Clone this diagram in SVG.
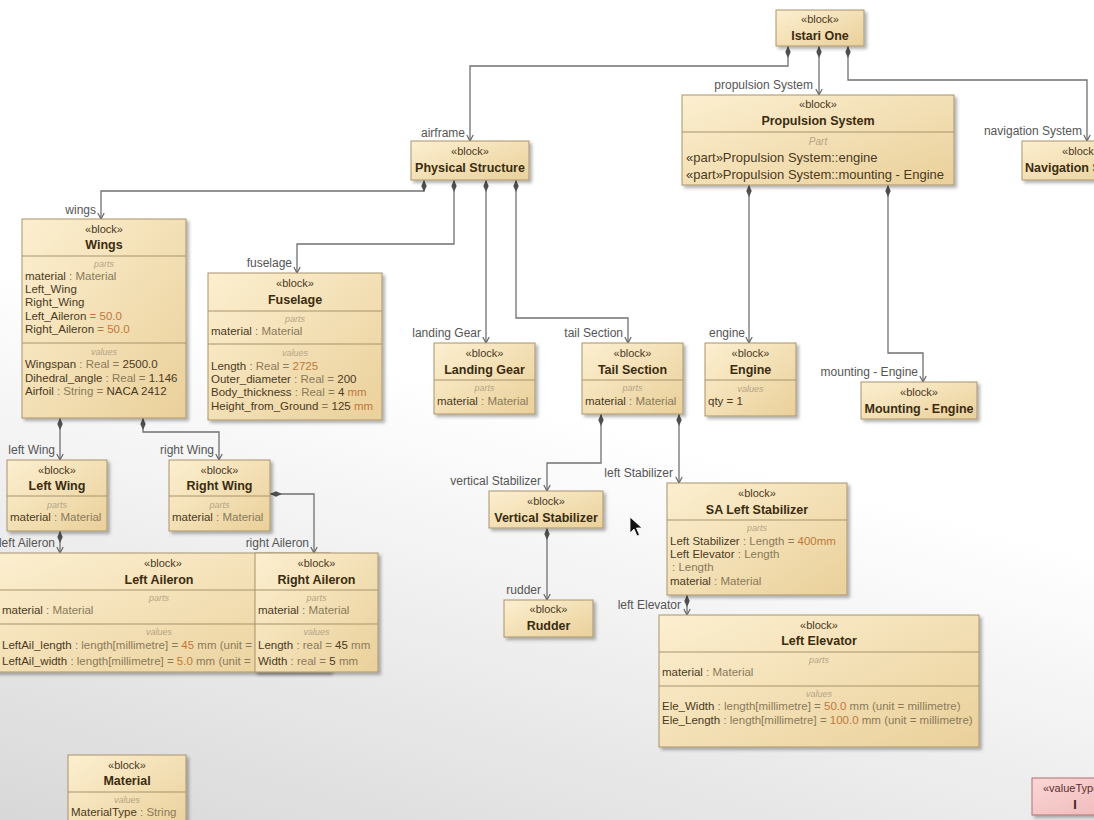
<svg xmlns="http://www.w3.org/2000/svg" width="1094" height="820" viewBox="0 0 1094 820">
<defs>
<linearGradient id="bg" x1="0.35" y1="0" x2="0" y2="1">
<stop offset="0.4" stop-color="#ffffff"/>
<stop offset="1" stop-color="#d8d8d8"/>
</linearGradient>
<linearGradient id="g" x1="0" y1="0" x2="1" y2="1">
<stop offset="0" stop-color="#fcefd0"/>
<stop offset="1" stop-color="#ead09a"/>
</linearGradient>
<linearGradient id="pk" x1="0" y1="0" x2="1" y2="1">
<stop offset="0" stop-color="#fbd6d6"/>
<stop offset="1" stop-color="#f0b8b8"/>
</linearGradient>
<clipPath id="laclip"><rect x="-10" y="540" width="265" height="140"/></clipPath>
<filter id="sh" x="-10%" y="-10%" width="130%" height="130%">
<feDropShadow dx="2.5" dy="2.5" stdDeviation="1.5" flood-color="#000" flood-opacity="0.3"/>
</filter>
<marker id="dia" markerWidth="14" markerHeight="8" refX="0" refY="4" orient="auto" markerUnits="userSpaceOnUse" viewBox="0 0 14 8">
<path d="M0,4 L6,1.3 L12,4 L6,6.7 Z" fill="#505050"/>
</marker>
<marker id="arr" markerWidth="10" markerHeight="10" refX="9" refY="5" orient="auto" markerUnits="userSpaceOnUse" viewBox="0 0 10 10">
<path d="M3,1.8 L9,5 L3,8.2" fill="none" stroke="#666" stroke-width="1.2"/>
</marker>
<style>
text{font-family:"Liberation Sans",Arial,sans-serif}
.box{fill:url(#g);stroke:#a8946c;stroke-width:1;filter:url(#sh)}
.sep{stroke:#a8946c;stroke-width:1}
.st{font-size:11px;fill:#4a3a1e;text-anchor:middle}
.ti{font-size:12.5px;font-weight:bold;fill:#3b2c10;text-anchor:middle}
.cp{font-size:9px;font-style:italic;fill:#b4a486;text-anchor:middle}
.pr{font-size:11.5px;fill:#4a3a1e}
.pp{font-size:13px;fill:#4a3a1e}
.ty{fill:#8a7a5a}
.num{fill:#c0783a}
.con{fill:none;stroke:#707070;stroke-width:1.3;marker-start:url(#dia);marker-end:url(#arr)}
.lbl{font-size:12px;fill:#555;text-anchor:end}
</style>
</defs>
<rect x="0" y="0" width="1094" height="820" fill="url(#bg)"/>

<g id="connectors">
<path class="con" d="M788,46 V66 H470 V141"/>
<path class="con" d="M819,46 V95"/>
<path class="con" d="M848,46 V80 H1087 V141"/>
<path class="con" d="M749,185 V343"/>
<path class="con" d="M888,185 V353 H923 V382"/>
<path class="con" d="M424,180 V191 H101 V219"/>
<path class="con" d="M454,180 V244 H297 V273"/>
<path class="con" d="M486,180 V343"/>
<path class="con" d="M516,180 V318 H628 V343"/>
<path class="con" d="M60,418 V460"/>
<path class="con" d="M143,418 V432 H219 V460"/>
<path class="con" d="M60,531 V553"/>
<path class="con" d="M270,494 H314 V553"/>
<path class="con" d="M601,414 V463 H547 V491"/>
<path class="con" d="M679,414 V483"/>
<path class="con" d="M547,528 V600"/>
<path class="con" d="M687,595 V615"/>
<text class="lbl" x="465" y="137">airframe</text>
<text class="lbl" x="813" y="89">propulsion System</text>
<text class="lbl" x="1082" y="135">navigation System</text>
<text class="lbl" x="745" y="337">engine</text>
<text class="lbl" x="918" y="376">mounting - Engine</text>
<text class="lbl" x="96" y="214">wings</text>
<text class="lbl" x="292" y="267">fuselage</text>
<text class="lbl" x="481" y="337">landing Gear</text>
<text class="lbl" x="623" y="337">tail Section</text>
<text class="lbl" x="55" y="454">left Wing</text>
<text class="lbl" x="214" y="454">right Wing</text>
<text class="lbl" x="55" y="547">left Aileron</text>
<text class="lbl" x="309" y="547">right Aileron</text>
<text class="lbl" x="541" y="485">vertical Stabilizer</text>
<text class="lbl" x="673" y="477">left Stabilizer</text>
<text class="lbl" x="541" y="594">rudder</text>
<text class="lbl" x="681" y="609">left Elevator</text>
</g>

<g id="istari-one">
<rect class="box" x="776" y="10" width="88" height="36"/>
<text class="st" x="820" y="23">«block»</text>
<text class="ti" x="820" y="40">Istari One</text>
</g>

<g id="propulsion-system">
<rect class="box" x="682" y="95" width="272" height="90"/>
<text class="st" x="818" y="108">«block»</text>
<text class="ti" x="818" y="125">Propulsion System</text>
<line class="sep" x1="682" y1="132" x2="954" y2="132"/>
<text class="cp" x="818" y="145" style="font-size:10px">Part</text>
<text class="pp" x="686" y="162">«part»Propulsion System::engine</text>
<text class="pp" x="686" y="179">«part»Propulsion System::mounting - Engine</text>
</g>

<g id="navigation-system">
<rect class="box" x="1022" y="141" width="118" height="39"/>
<text class="st" x="1081" y="155">«block»</text>
<text class="ti" x="1081" y="172">Navigation System</text>
</g>

<g id="physical-structure">
<rect class="box" x="411" y="141" width="118" height="39"/>
<text class="st" x="470" y="155">«block»</text>
<text class="ti" x="470" y="172">Physical Structure</text>
</g>

<g id="wings">
<rect class="box" x="22" y="219" width="164" height="199"/>
<text class="st" x="104" y="233">«block»</text>
<text class="ti" x="104" y="249">Wings</text>
<line class="sep" x1="22" y1="256" x2="186" y2="256"/>
<text class="cp" x="104" y="267">parts</text>
<text class="pr" x="25" y="280">material<tspan class="ty"> : Material</tspan></text>
<text class="pr" x="25" y="293">Left_Wing</text>
<text class="pr" x="25" y="306">Right_Wing</text>
<text class="pr" x="25" y="320">Left_Aileron<tspan class="num"> = 50.0</tspan></text>
<text class="pr" x="25" y="333">Right_Aileron<tspan class="num"> = 50.0</tspan></text>
<line class="sep" x1="22" y1="343" x2="186" y2="343"/>
<text class="cp" x="104" y="355">values</text>
<text class="pr" x="25" y="368">Wingspan<tspan class="ty"> : Real = </tspan>2500.0</text>
<text class="pr" x="25" y="382">Dihedral_angle<tspan class="ty"> : Real = </tspan>1.146</text>
<text class="pr" x="25" y="395">Airfoil<tspan class="ty"> : String = </tspan>NACA 2412</text>
</g>

<g id="fuselage">
<rect class="box" x="208" y="273" width="174" height="147"/>
<text class="st" x="295" y="287">«block»</text>
<text class="ti" x="295" y="304">Fuselage</text>
<line class="sep" x1="208" y1="311" x2="382" y2="311"/>
<text class="cp" x="295" y="322">parts</text>
<text class="pr" x="211" y="335">material<tspan class="ty"> : Material</tspan></text>
<line class="sep" x1="208" y1="344" x2="382" y2="344"/>
<text class="cp" x="295" y="356">values</text>
<text class="pr" x="211" y="370">Length<tspan class="ty"> : Real = </tspan><tspan class="num">2725</tspan></text>
<text class="pr" x="211" y="383">Outer_diameter<tspan class="ty"> : Real = </tspan>200</text>
<text class="pr" x="211" y="396">Body_thickness<tspan class="ty"> : Real = </tspan>4 <tspan class="num">mm</tspan></text>
<text class="pr" x="211" y="410">Height_from_Ground<tspan class="ty"> = </tspan>125 <tspan class="num">mm</tspan></text>
</g>

<g id="landing-gear">
<rect class="box" x="434" y="343" width="101" height="71"/>
<text class="st" x="484.5" y="357">«block»</text>
<text class="ti" x="484.5" y="374">Landing Gear</text>
<line class="sep" x1="434" y1="380" x2="535" y2="380"/>
<text class="cp" x="484.5" y="391">parts</text>
<text class="pr" x="437" y="405">material<tspan class="ty"> : Material</tspan></text>
</g>

<g id="tail-section">
<rect class="box" x="582" y="343" width="101" height="71"/>
<text class="st" x="632.5" y="357">«block»</text>
<text class="ti" x="632.5" y="374">Tail Section</text>
<line class="sep" x1="582" y1="380" x2="683" y2="380"/>
<text class="cp" x="632.5" y="391">parts</text>
<text class="pr" x="585" y="405">material<tspan class="ty"> : Material</tspan></text>
</g>

<g id="engine">
<rect class="box" x="705" y="343" width="91" height="73"/>
<text class="st" x="750.5" y="357">«block»</text>
<text class="ti" x="750.5" y="374">Engine</text>
<line class="sep" x1="705" y1="380" x2="796" y2="380"/>
<text class="cp" x="750.5" y="392">values</text>
<text class="pr" x="708" y="405">qty = 1</text>
</g>

<g id="mounting-engine">
<rect class="box" x="861" y="382" width="116" height="37"/>
<text class="st" x="919" y="396">«block»</text>
<text class="ti" x="919" y="413">Mounting - Engine</text>
</g>

<g id="left-wing">
<rect class="box" x="7" y="460" width="100" height="71"/>
<text class="st" x="57" y="474">«block»</text>
<text class="ti" x="57" y="490">Left Wing</text>
<line class="sep" x1="7" y1="496" x2="107" y2="496"/>
<text class="cp" x="57" y="508">parts</text>
<text class="pr" x="10" y="521">material<tspan class="ty"> : Material</tspan></text>
</g>

<g id="right-wing">
<rect class="box" x="169" y="460" width="101" height="71"/>
<text class="st" x="219.5" y="474">«block»</text>
<text class="ti" x="219.5" y="490">Right Wing</text>
<line class="sep" x1="169" y1="496" x2="270" y2="496"/>
<text class="cp" x="219.5" y="508">parts</text>
<text class="pr" x="172" y="521">material<tspan class="ty"> : Material</tspan></text>
</g>

<g id="left-aileron">
<rect class="box" x="-4" y="553" width="334" height="119"/>
<g clip-path="url(#laclip)">
<text class="st" x="163" y="567">«block»</text>
<text class="ti" x="159" y="584">Left Aileron</text>
<line class="sep" x1="-4" y1="590" x2="330" y2="590"/>
<text class="cp" x="159" y="601">parts</text>
<text class="pr" x="2" y="614">material<tspan class="ty"> : Material</tspan></text>
<line class="sep" x1="-4" y1="624" x2="330" y2="624"/>
<text class="cp" x="159" y="635">values</text>
<text class="pr" x="2" y="649">LeftAil_length<tspan class="ty"> : length[millimetre] = </tspan><tspan class="num">45</tspan><tspan class="ty"> mm (unit =</tspan></text>
<text class="pr" x="2" y="665">LeftAil_width<tspan class="ty"> : length[millimetre] = </tspan><tspan class="num">5.0</tspan><tspan class="ty"> mm (unit =</tspan></text>
</g>
</g>

<g id="right-aileron">
<rect class="box" x="255" y="553" width="123" height="119"/>
<text class="st" x="316.5" y="567">«block»</text>
<text class="ti" x="316.5" y="584">Right Aileron</text>
<line class="sep" x1="255" y1="590" x2="378" y2="590"/>
<text class="cp" x="316.5" y="601">parts</text>
<text class="pr" x="258" y="614">material<tspan class="ty"> : Material</tspan></text>
<line class="sep" x1="255" y1="624" x2="378" y2="624"/>
<text class="cp" x="316.5" y="635">values</text>
<text class="pr" x="258" y="649">Length<tspan class="ty"> : real = </tspan>45 <tspan class="ty">mm</tspan></text>
<text class="pr" x="258" y="665">Width<tspan class="ty"> : real = </tspan>5 <tspan class="ty">mm</tspan></text>
</g>

<g id="vertical-stabilizer">
<rect class="box" x="489" y="491" width="114" height="37"/>
<text class="st" x="546" y="505">«block»</text>
<text class="ti" x="546" y="522">Vertical Stabilizer</text>
</g>

<g id="rudder">
<rect class="box" x="504" y="600" width="89" height="37"/>
<text class="st" x="548.5" y="613">«block»</text>
<text class="ti" x="548.5" y="630">Rudder</text>
</g>

<g id="sa-left-stabilizer">
<rect class="box" x="667" y="483" width="180" height="112"/>
<text class="st" x="757" y="497">«block»</text>
<text class="ti" x="757" y="514">SA Left Stabilizer</text>
<line class="sep" x1="667" y1="520" x2="847" y2="520"/>
<text class="cp" x="757" y="531">parts</text>
<text class="pr" x="670" y="545">Left Stabilizer<tspan class="ty"> : Length = </tspan><tspan class="num">400mm</tspan></text>
<text class="pr" x="670" y="558">Left Elevator<tspan class="ty"> : Length</tspan></text>
<text class="pr ty" x="672" y="571"> : Length</text>
<text class="pr" x="670" y="585">material<tspan class="ty"> : Material</tspan></text>
</g>

<g id="left-elevator">
<rect class="box" x="659" y="615" width="320" height="132"/>
<text class="st" x="819" y="629">«block»</text>
<text class="ti" x="819" y="645">Left Elevator</text>
<line class="sep" x1="659" y1="652" x2="979" y2="652"/>
<text class="cp" x="819" y="663">parts</text>
<text class="pr" x="662" y="676">material<tspan class="ty"> : Material</tspan></text>
<line class="sep" x1="659" y1="686" x2="979" y2="686"/>
<text class="cp" x="819" y="697">values</text>
<text class="pr" x="662" y="710">Ele_Width<tspan class="ty"> : length[millimetre] = </tspan><tspan class="num">50.0</tspan><tspan class="ty"> mm (unit = millimetre)</tspan></text>
<text class="pr" x="662" y="724">Ele_Length<tspan class="ty"> : length[millimetre] = </tspan><tspan class="num">100.0</tspan><tspan class="ty"> mm (unit = millimetre)</tspan></text>
</g>

<g id="material">
<rect class="box" x="68" y="755" width="118" height="80"/>
<text class="st" x="127" y="769">«block»</text>
<text class="ti" x="127" y="785">Material</text>
<line class="sep" x1="68" y1="792" x2="186" y2="792"/>
<text class="cp" x="127" y="803">values</text>
<text class="pr" x="71" y="816">MaterialType<tspan class="ty"> : String</tspan></text>
</g>

<g id="value-type">
<rect x="1032" y="778" width="90" height="37" fill="url(#pk)" stroke="#b07070" stroke-width="1" filter="url(#sh)"/>
<text class="st" x="1043" y="792" style="text-anchor:start;fill:#5a3030">«valueType»</text>
<text class="ti" x="1075" y="809" style="fill:#3a2020">I</text>
</g>

<path d="M630,517 L630,533 L634,529 L637,536 L639.5,535 L636.5,528 L642,528 Z" fill="#111" stroke="#fff" stroke-width="0.8"/>
</svg>
